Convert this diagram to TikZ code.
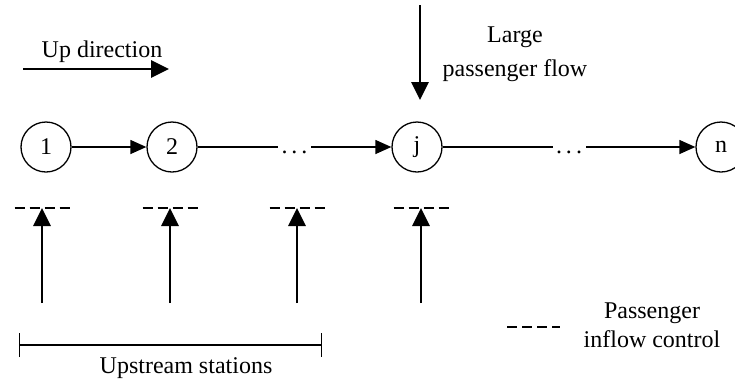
\documentclass[tikz,border=0pt]{standalone}
\usepackage{fontspec}
\setmainfont{Liberation Serif}
\usetikzlibrary{arrows.meta}
\begin{document}
\begin{tikzpicture}[x=1pt,y=-1pt,
  every node/.style={font=\fontsize{24}{29}\selectfont},
  station/.style={draw,circle,line width=1.3pt,minimum size=50pt,inner sep=0pt},
  link/.style={line width=1.3pt,-{Triangle[length=16pt,width=14pt]}},
  bigarrow/.style={line width=2.8pt,-{Triangle[length=18pt,width=17pt]}},
  ctrl/.style={line width=2.4pt,dash pattern=on 10pt off 5pt},
  gapdots/.style={fill=white,inner xsep=3.5pt,inner ysep=0pt,text height=13pt,text depth=0pt}]
\useasboundingbox (0,0) rectangle (735,381);

% stations
\node[station] (s1) at (46,147) {1};
\node[station] (s2) at (172,147) {2};
\node[station] (sj) at (417,147) {j};
\node[station] (sn) at (721,147) {n};

\draw[link] (s1) -- (s2);
\draw[link] (s2) -- node[gapdots] {.\hspace{4pt}.\hspace{4pt}.} (sj);
\draw[link] (sj) -- node[gapdots] {.\hspace{4pt}.\hspace{4pt}.} (sn);

% up direction
\coordinate (ua) at (23,69);
\coordinate (ub) at (169,69);
\draw[bigarrow] (ua) -- (ub);
\node[anchor=base] (updir) at (102,57) {Up direction};

% large passenger flow
\coordinate (la) at (420,5);
\coordinate (lb) at (420,100);
\draw[bigarrow] (la) -- (lb);
\node[anchor=base,align=center,font=\fontsize{24}{34}\selectfont] (lpf) at (515,76) {Large\\passenger flow};

% inflow control
\foreach \x/\n in {42/a,170/b,297/c,421/d}{
  \coordinate (in\n) at (\x,303);
  \coordinate (it\n) at (\x,208);
  \coordinate (dl\n) at (\x-27.5,208);
  \coordinate (dr\n) at (\x+27.5,208);
  \draw[ctrl] (dl\n) -- (dr\n);
  \draw[bigarrow] (in\n) -- (it\n);
}

% upstream stations
\coordinate (ba) at (19,345);
\coordinate (bb) at (322,345);
\draw[line width=1.3pt,{Bar[width=24pt]}-{Bar[width=24pt]}] (ba) -- (bb);
\node[anchor=base] (ups) at (186,373) {Upstream stations};

% legend
\coordinate (ga) at (507,327);
\coordinate (gb) at (560,327);
\draw[ctrl] (ga) -- (gb);
\node[anchor=base,align=center,font=\fontsize{24}{29}\selectfont] (leg) at (652,347) {Passenger\\inflow control};
\end{tikzpicture}
\end{document}
